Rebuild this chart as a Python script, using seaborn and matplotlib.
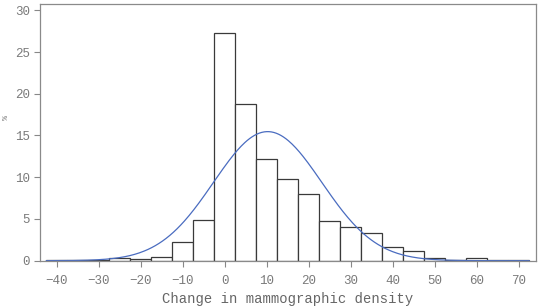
import numpy as np
import pandas as pd
import matplotlib
matplotlib.use("Agg")
import matplotlib.pyplot as plt
import seaborn as sns

# bin centres (width 5) and percentage of women in each bin
bin_centres = [-40, -35, -30, -25, -20, -15, -10, -5, 0, 5, 10, 15, 20, 25,
               30, 35, 40, 45, 50, 55, 60, 65, 70]
percent = [0.05, 0.05, 0.1, 0.3, 0.17, 0.4, 2.2, 4.87, 27.3, 18.8, 12.17, 9.77,
           7.98, 4.78, 4.03, 3.28, 1.6, 1.16, 0.36, 0.05, 0.29, 0.03, 0.12]
bin_width = 5

# fitted normal curve parameters
fit_mean = 10.2
fit_sd = 12.9

df = pd.DataFrame({"change": bin_centres, "pct": percent})

sns.set_theme(style="white")
plt.rcParams["font.family"] = ["Liberation Mono", "DejaVu Sans Mono"]

fig = plt.figure(figsize=(5.4, 3.08), dpi=100)
ax = fig.add_axes([0.074, 0.1536, 0.918, 0.832])

lo = bin_centres[0] - bin_width / 2
hi = bin_centres[-1] + bin_width / 2
sns.histplot(data=df, x="change", weights="pct", binwidth=bin_width, binrange=(lo, hi),
             color="white", edgecolor="#3a3a3a", linewidth=0.9, alpha=1, ax=ax)

xs = np.linspace(lo, hi, 400)
ys = bin_width * 100 / (fit_sd * np.sqrt(2 * np.pi)) * np.exp(-0.5 * ((xs - fit_mean) / fit_sd) ** 2)
sns.lineplot(x=xs, y=ys, color="#4a6cc0", linewidth=0.9, ax=ax)

ax.set_xlim(-44, 74)
ax.set_ylim(0, 30.7)
ax.set_xticks(range(-40, 71, 10))
ax.set_yticks(range(0, 31, 5))
ax.tick_params(axis="both", direction="out", length=4, width=0.8, color="#888888",
               labelsize=9, labelcolor="#7a7a7a", bottom=True, left=True)
ax.tick_params(axis="x", pad=6)
ax.tick_params(axis="y", pad=3)
for s in ax.spines.values():
    s.set_color("#8a8a8a")
    s.set_linewidth(0.9)

ax.set_xlabel("Change in mammographic density", fontsize=10, color="#666666", labelpad=4)
ax.set_ylabel("%", fontsize=6, color="#777777")
ax.yaxis.set_label_coords(-0.06, 0.557)

fig.savefig("out.png", dpi=100)
